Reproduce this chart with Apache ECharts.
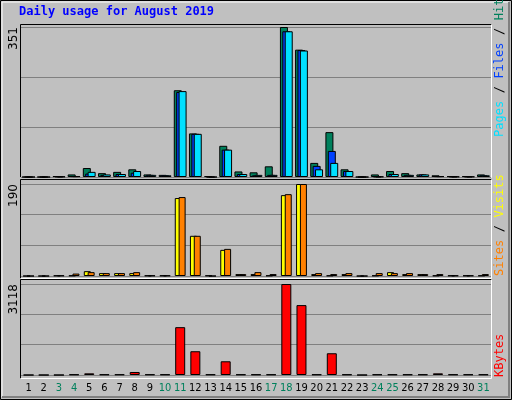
<!DOCTYPE html>
<html>
<head>
	<meta charset="utf-8" />
	<title>Daily usage for August 2019</title>
	<script src="https://cdn.jsdelivr.net/npm/echarts@6/dist/echarts.min.js"></script>
	<style>
		* { margin: 0; padding: 0; }
		html, body { width: 512px; height: 400px; background: #c0c0c0; }
		#main { width: 512px; height: 400px; }
	</style>
</head>
<body>
	<div id="main"></div>
	<script>
		var days = ['1','2','3','4','5','6','7','8','9','10','11','12','13','14','15','16','17','18','19','20','21','22','23','24','25','26','27','28','29','30','31'];
		var weekend = ['3','4','10','11','17','18','24','25','31'];
		var hits   = [0,0,2,6,21,9,12,18,6,5,203,102,2,73,13,11,25,351,298,33,105,18,0,6,14,9,6,4,2,2,6];
		var files  = [0,0,1,2,8,5,7,10,5,4,199,101,0,64,7,4,5,341,297,26,61,14,0,1,7,5,6,2,1,1,4];
		var pages  = [0,0,1,2,12,6,7,14,5,4,201,101,0,64,7,5,5,341,296,18,33,14,0,1,7,5,6,2,1,1,4];
		var visits = [0,0,1,1,10,6,6,6,1,1,161,83,1,54,4,4,1,167,190,4,1,4,0,1,8,4,4,1,1,1,1];
		var sites  = [0,0,1,5,8,6,6,8,1,1,163,83,0,56,4,8,4,169,190,6,4,6,0,6,6,6,4,4,1,1,4];
		var kbytes = [0,0,0,20,57,20,20,103,20,20,1639,814,20,470,20,20,20,3118,2395,20,745,20,0,20,20,20,20,57,20,20,20];

		var maxTop = Math.max.apply(null, hits);
		var maxMid = Math.max.apply(null, sites.concat(visits));
		var maxBot = Math.max.apply(null, kbytes);

		var chart = echarts.init(document.getElementById('main'));

		// 面板边框：左上黑、右下白
		function frame(x, y, w, h) {
			return [
				{ type: 'polyline', shape: { points: [[x, y + h], [x, y], [x + w, y]] }, style: { stroke: '#000', lineWidth: 1, fill: null }, silent: true },
				{ type: 'polyline', shape: { points: [[x + w, y], [x + w, y + h], [x, y + h]] }, style: { stroke: '#fff', lineWidth: 1, fill: null }, silent: true }
			];
		}
		function vtext(x, y, parts) {
			// 从下往上读的竖排文字
			var items = [];
			var cy = y;
			parts.forEach(function (p) {
				items.push({ type: 'text', x: x, y: cy, rotation: Math.PI / 2,
					style: { text: p[0], fill: p[1], font: '12px "DejaVu Sans Mono"', align: 'left', verticalAlign: 'middle' } });
				cy -= p[0].length * 7.3;
			});
			return items;
		}

		var graphics = [
			{ type: 'rect', shape: { x: 0.5, y: 0.5, width: 511, height: 399 }, style: { fill: null, stroke: '#000' }, silent: true },
			{ type: 'polyline', shape: { points: [[2, 397], [2, 2], [509, 2]] }, style: { stroke: '#fff', fill: null }, silent: true },
			{ type: 'polyline', shape: { points: [[509, 2], [509, 397], [2, 397]] }, style: { stroke: '#808080', fill: null, lineWidth: 2 }, silent: true },
			{ type: 'text', x: 19, y: 12, style: { text: 'Daily usage for August 2019', fill: '#0000ff', font: 'bold 12px "DejaVu Sans Mono"', verticalAlign: 'middle' } },
			{ type: 'text', x: 14, y: 27, rotation: Math.PI / 2, style: { text: String(maxTop), fill: '#000', font: '12px "DejaVu Sans"', align: 'right', verticalAlign: 'middle' } },
			{ type: 'text', x: 14, y: 184, rotation: Math.PI / 2, style: { text: String(maxMid), fill: '#000', font: '12px "DejaVu Sans"', align: 'right', verticalAlign: 'middle' } },
			{ type: 'text', x: 14, y: 284, rotation: Math.PI / 2, style: { text: String(maxBot), fill: '#000', font: '12px "DejaVu Sans"', align: 'right', verticalAlign: 'middle' } }
		];
		graphics = graphics.concat(frame(20.5, 24.5, 471, 153), frame(20.5, 179.5, 471, 99), frame(20.5, 279.5, 471, 99));
		graphics = graphics.concat(vtext(500, 137, [['Pages', '#00e0ff'], [' / ', '#000'], ['Files', '#0040ff'], [' / ', '#000'], ['Hits', '#00805c']]));
		graphics = graphics.concat(vtext(500, 276, [['Sites', '#ff8000'], [' / ', '#000'], ['Visits', '#ffff00']]));
		graphics = graphics.concat(vtext(500, 377, [['KBytes', '#ff0000']]));

		function yAxis(idx, max) {
			return {
				gridIndex: idx, type: 'value', min: 0, max: max, interval: max / 3,
				axisLabel: { show: false }, axisLine: { show: false }, axisTick: { show: false },
				splitLine: { lineStyle: { color: '#808080', width: 1 } }
			};
		}
		function xAxis(idx, labels) {
			return {
				gridIndex: idx, type: 'category', data: days,
				axisLine: { show: false }, axisTick: { show: false },
				axisLabel: {
					show: labels, interval: 0, margin: 8, fontSize: 11, fontFamily: 'DejaVu Sans Condensed',
					color: function (v) { return weekend.indexOf(v) >= 0 ? '#00805c' : '#000'; }
				}
			};
		}
		var bs = { borderColor: '#000', borderWidth: 1 };
		function bar(name, data, color, xi, w, gap) {
			return {
				name: name, type: 'bar', xAxisIndex: xi, yAxisIndex: xi, data: data,
				barWidth: w, barGap: gap, animation: false, silent: true,
				itemStyle: Object.assign({ color: color }, bs)
			};
		}

		var option = {
			backgroundColor: '#c0c0c0',
			animation: false,
			grid: [
				{ left: 21, right: 21, top: 27, height: 150 },
				{ left: 21, right: 21, top: 184, height: 92 },
				{ left: 21, right: 21, top: 284, height: 91 }
			],
			xAxis: [xAxis(0, false), xAxis(1, false), xAxis(2, true)],
			yAxis: [yAxis(0, maxTop), yAxis(1, maxMid), yAxis(2, maxBot)],
			series: [
				bar('Hits', hits, '#00805c', 0, 8, '-70%'),
				bar('Files', files, '#0040ff', 0, 8, '-70%'),
				bar('Pages', pages, '#00e0ff', 0, 8, '-70%'),
				bar('Visits', visits, '#ffff00', 1, 7, '-45%'),
				bar('Sites', sites, '#ff8000', 1, 7, '-45%'),
				bar('KBytes', kbytes, '#ff0000', 2, 10, '0%')
			],
			graphic: graphics
		};
		chart.setOption(option);
	</script>
</body>
</html>
